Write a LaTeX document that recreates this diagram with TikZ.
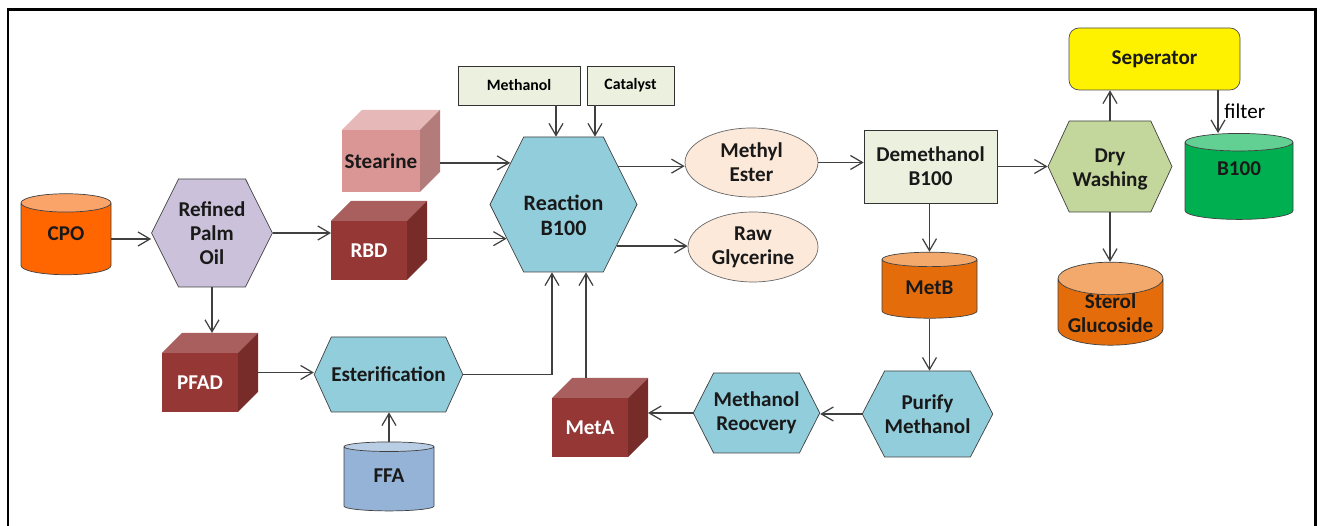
\documentclass[tikz,border=0pt]{standalone}
\usepackage{fontspec}
\setmainfont{Carlito}
\usepackage{tikz}
\usetikzlibrary{shapes.geometric,shapes.symbols,arrows.meta}

\definecolor{cpoorange}{HTML}{FF6600}
\definecolor{cpotop}{HTML}{FBA46A}
\definecolor{metorange}{HTML}{E46C0A}
\definecolor{mettop}{HTML}{F2A96B}
\definecolor{bgreen}{HTML}{00B050}
\definecolor{bgreentop}{HTML}{62CF93}
\definecolor{ffablue}{HTML}{95B3D7}
\definecolor{ffatop}{HTML}{B9CDE5}
\definecolor{lavender}{HTML}{CCC1DA}
\definecolor{hexblue}{HTML}{92CDDC}
\definecolor{drygreen}{HTML}{C3D69B}
\definecolor{peach}{HTML}{FDE9D9}
\definecolor{boxgreen}{HTML}{EBF1DE}
\definecolor{stfront}{HTML}{D99694}
\definecolor{sttop}{HTML}{E6B9B8}
\definecolor{stside}{HTML}{B37B7A}
\definecolor{redfront}{HTML}{953735}
\definecolor{redtop}{HTML}{A85F5D}
\definecolor{redside}{HTML}{772C2A}

% top and side faces of a cube node
\newcommand{\cubefaces}[3]{%
  \fill[#2] (#1.north west) -- ++(0.4,0.4) -- ([shift={(0.4,0.4)}]#1.north east) -- (#1.north east) -- cycle;
  \fill[#3] (#1.north east) -- ++(0.4,0.4) -- ([shift={(0.4,0.4)}]#1.south east) -- (#1.south east) -- cycle;
  \coordinate (#1-e) at ([shift={(0.4,0.2)}]#1.east);
  \coordinate (#1-n) at ([shift={(0.2,0.4)}]#1.north);
}
% text moved up or down inside its node
\newcommand{\shifttext}[2]{\raisebox{#1}[0pt][0pt]{\begin{tabular}{@{}c@{}}#2\end{tabular}}}

\tikzset{
  arr/.style={-{Straight Barb[length=2.4mm,width=2.8mm]}, draw=black!75, line width=0.7pt},
  lbl/.style={font=\bfseries\fontsize{12}{13.5}\selectfont, align=center, text=black!90},
  hexa/.style={signal, signal to=west and east, lbl, draw=black!75, fill=hexblue, inner sep=0pt},
  cyl/.style={cylinder, shape border rotate=90, aspect=0.3, cylinder uses custom fill, lbl, draw=black!75, inner sep=0pt},
  cubefront/.style={rectangle, lbl, text=white, fill=redfront, outer sep=0pt, inner sep=0pt},
  smallbox/.style={rectangle, draw=black!80, fill=boxgreen, font=\bfseries\fontsize{9}{11}\selectfont, inner sep=0pt},
  oval/.style={ellipse, draw=black!60, fill=peach, lbl, inner sep=0pt},
}

\begin{document}
\begin{tikzpicture}
    \useasboundingbox (0,0) rectangle (26.48,10.52);

    % Frame
    \draw[line width=1.7pt] (0.16,-0.3) -- (0.16,10.32) -- (26.30,10.32) -- (26.30,-0.3);

    % Feed side
    \node[cyl, aspect=0.5, cylinder body fill=cpoorange, cylinder end fill=cpotop, minimum width=1.80cm, minimum height=1.62cm] (cpo) at (1.32,5.74) {\shifttext{-0.05cm}{CPO}};
    \node[hexa, signal pointer angle=127, fill=lavender, minimum width=2.36cm, minimum height=2.16cm] (rpo) at (4.24,5.86) {Refined\\Palm\\Oil};
    \node[cubefront, fill=stfront, text=black!90, minimum width=1.56cm, minimum height=1.24cm] (stearine) at (7.62,7.30) {Stearine};
    \cubefaces{stearine}{sttop}{stside}
    \node[cubefront, minimum width=1.52cm, minimum height=1.18cm] (rbd) at (7.38,5.51) {RBD};
    \cubefaces{rbd}{redtop}{redside}
    \node[cubefront, minimum width=1.52cm, minimum height=1.18cm] (pfad) at (4.00,2.87) {PFAD};
    \cubefaces{pfad}{redtop}{redside}
    \node[hexa, signal pointer angle=131, minimum width=2.86cm, minimum height=1.50cm] (ester) at (7.77,3.03) {Esterification};
    \node[cyl, aspect=0.31, cylinder body fill=ffablue, cylinder end fill=ffatop, minimum width=1.80cm, minimum height=1.38cm] (ffa) at (7.78,0.94) {\shifttext{-0.08cm}{FFA}};

    % Reaction
    \node[smallbox, minimum width=2.44cm, minimum height=0.78cm] (methanol) at (10.38,8.81) {Methanol};
    \node[smallbox, minimum width=1.74cm, minimum height=0.78cm] (catalyst) at (12.61,8.81) {Catalyst};
    \node[hexa, signal pointer angle=127, font=\bfseries\fontsize{12.5}{14}\selectfont, minimum width=2.94cm, minimum height=2.70cm] (reaction) at (11.27,6.43) {\shifttext{-0.38cm}{Reaction\\B100}};
    \node[oval, minimum width=2.66cm, minimum height=1.38cm] (mester) at (15.03,7.27) {Methyl\\Ester};
    \node[oval, minimum width=2.60cm, minimum height=1.40cm] (glycerine) at (15.06,5.58) {Raw\\Glycerine};
    \node[cubefront, minimum width=1.52cm, minimum height=1.18cm] (meta) at (11.80,1.97) {MetA};
    \cubefaces{meta}{redtop}{redside}

    % Washing and recovery
    \node[rectangle, draw=black!80, fill=boxgreen, lbl, minimum width=2.66cm, minimum height=1.46cm] (demeth) at (18.61,7.19) {Demethanol\\B100};
    \node[hexa, signal pointer angle=130, fill=drygreen, minimum width=2.48cm, minimum height=1.82cm] (dry) at (22.20,7.19) {\shifttext{-0.17cm}{Dry\\Washing}};
    \node[rectangle, rounded corners=0.2cm, draw=black!70, fill=yellow, lbl, minimum width=3.42cm, minimum height=1.24cm] (sep) at (23.09,9.34) {Seperator};
    \node[cyl, aspect=0.4, cylinder body fill=bgreen, cylinder end fill=bgreentop, minimum width=2.16cm, minimum height=1.72cm] (b100) at (24.78,6.90) {\shifttext{0.10cm}{B100}};
    \node[cyl, cylinder body fill=metorange, cylinder end fill=mettop, minimum width=1.90cm, minimum height=1.32cm] (metb) at (18.59,4.74) {\shifttext{-0.12cm}{MetB}};
    \node[cyl, aspect=0.38, cylinder body fill=metorange, cylinder end fill=mettop, minimum width=2.10cm, minimum height=1.66cm] (sterol) at (22.21,4.28) {\shifttext{-0.18cm}{Sterol\\Glucoside}};
    \node[hexa, signal pointer angle=125, minimum width=2.50cm, minimum height=1.72cm] (purify) at (18.55,2.24) {Purify\\Methanol};
    \node[hexa, signal pointer angle=126, minimum width=2.50cm, minimum height=1.60cm] (recovery) at (15.13,2.26) {Methanol\\Reocvery};

    % Flows
    \draw[arr] (cpo.east) -- (cpo.east -| rpo.west);
    \draw[arr] (rpo.east) -- (rpo.east -| rbd.west);
    \draw[arr] (rpo.south) -- (rpo.south |- pfad-n);
    \draw[arr] (pfad-e) -- (pfad-e -| ester.west);
    \draw[arr] (ffa.north) -- (ffa.north |- ester.south);
    \draw[arr] (ester.east) -| ([xshift=-0.23cm]reaction.south);
    \draw[arr] (stearine-e |- reaction.142) -- (reaction.142);
    \draw[arr] (rbd-e |- reaction.211) -- (reaction.211);
    \draw[arr] ([xshift=-0.15cm]reaction.north |- methanol.south) -- ([xshift=-0.15cm]reaction.north);
    \draw[arr] ([xshift=0.63cm]reaction.north |- catalyst.south) -- ([xshift=0.63cm]reaction.north);
    \draw[arr] ([xshift=0.45cm]reaction.south |- meta-n) -- ([xshift=0.45cm]reaction.south);
    \draw[arr] (reaction.35) -- (reaction.35 -| mester.west);
    \draw[arr] (reaction.322) -- (reaction.322 -| glycerine.west);
    \draw[arr] (mester.east) -- (mester.east -| demeth.west);
    \draw[arr] (demeth.east) -- (dry.west);
    \draw[arr] (metb.north |- demeth.south) -- (metb.north);
    \draw[arr] (dry.north) -- (dry.north |- sep.south);
    \draw[arr] (dry.south) -- (dry.south |- sterol.north);
    \draw[arr] ([xshift=-0.42cm]b100.north |- sep.south) -- node[right, font=\fontsize{12}{14}\selectfont] {filter} ([xshift=-0.42cm]b100.north);
    \draw[arr] (metb.south) -- (metb.south |- purify.north);
    \draw[arr] (purify.west) -- (purify.west -| recovery.east);
    \draw[arr] (recovery.west) -- (recovery.west -| meta-e);
\end{tikzpicture}
\end{document}
